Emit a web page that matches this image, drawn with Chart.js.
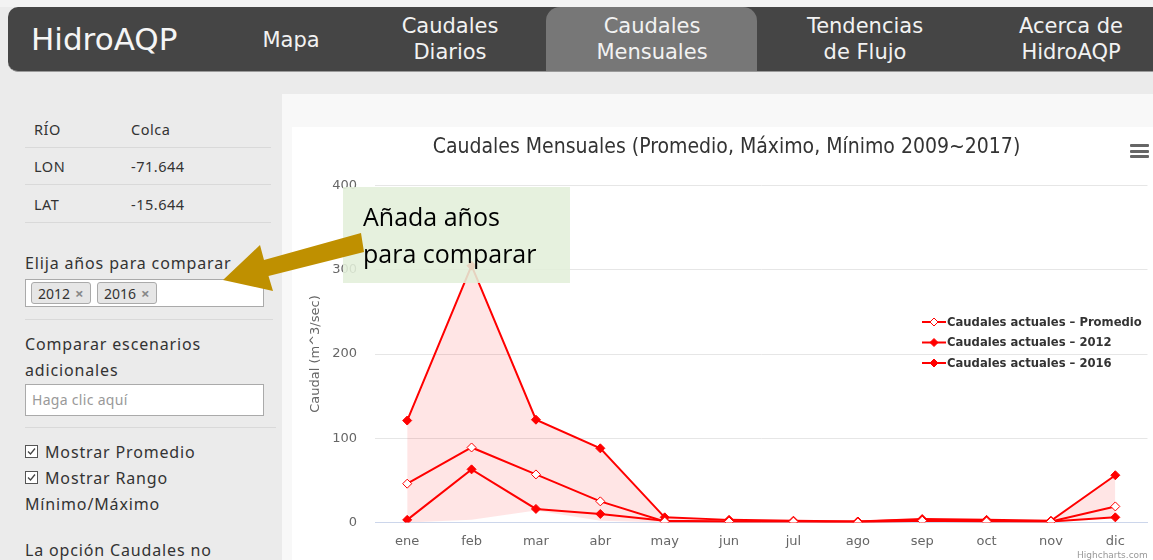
<!DOCTYPE html>
<html>
<head>
<meta charset="utf-8">
<script src="https://cdn.jsdelivr.net/npm/chart.js@4.4.1/dist/chart.umd.min.js"></script>
<style>
    html, body { margin: 0; padding: 0; }
    body {
        width: 1153px; height: 560px; overflow: hidden; position: relative;
        background: #ebebeb; font-family: "Noto Sans", sans-serif; color: #333;
    }
    .abs { position: absolute; white-space: nowrap; }
    #topStrip { left: 0; top: 0; width: 1153px; height: 7px; background: #f3f3f3; }
    #nav {
        left: 8px; top: 7px; width: 1170px; height: 64px; background: #454545;
        border-radius: 10px; border-bottom: 1px solid #9a9a9a;
    }
    #activeTab { left: 546px; top: 7px; width: 211px; height: 64px; background: #777; border-radius: 14px 14px 0 0; }
    .navItem {
        color: #f2f2f2; font-family: "DejaVu Sans", sans-serif; font-size: 21px; line-height: 26px;
        text-align: center; width: 210px;
    }
    #brand { left: 31px; top: 19px; font-family: "DejaVu Sans", sans-serif; font-size: 31px; line-height: 40px; color: #f5f5f5; }
    #mainPanel { left: 282px; top: 94px; width: 871px; height: 466px; background: #f8f8f8; }
    #chartCard { left: 292px; top: 127px; width: 861px; height: 433px; background: #fff; }
    #chartCard canvas { display: block; }
    .side { font-size: 16px; line-height: 26px; color: #333; letter-spacing: 0.85px; }
    .tbl { font-size: 14.5px; line-height: 20px; color: #333; letter-spacing: 0.5px; }
    .rule { height: 1px; background: #d9d9d9; }
    .box { background: #fff; border: 1px solid #aaa; box-sizing: border-box; }
    .tag {
        top: 282px; height: 22px; line-height: 20px; font-size: 14px; background: #e6e6e6;
        border: 1px solid #aaa; border-radius: 3px; box-sizing: border-box; padding: 0 6px; color: #333;
        width: 60px;
    }
    .tag span { color: #888; margin-left: 5px; font-weight: bold; font-size: 15px; }
    .chk {
        width: 13px; height: 13px; border: 1px solid #555; box-sizing: border-box; background: #fff;
    }
    #note {
        left: 343px; top: 187px; width: 227px; height: 96px; background: rgba(226, 239, 218, 0.88);
        font-family: "Open Sans", sans-serif; font-size: 25px; line-height: 37px; color: #000;
        box-sizing: border-box; padding: 11px 0 0 20px;
    }
    #menuIcon div { position: absolute; left: 0; width: 19px; height: 3px; background: #666; border-radius: 1px; }
    #credit { left: 1077px; top: 550px; font-family: "DejaVu Sans", sans-serif; font-size: 9px; color: #999; }
</style>
</head>
<body>
<div class="abs" id="topStrip"></div>
<div class="abs" id="nav"></div>
<div class="abs" id="activeTab"></div>
<div class="abs" id="brand">HidroAQP</div>
<div class="abs navItem" style="left:186px; top:27px;">Mapa</div>
<div class="abs navItem" style="left:345px; top:13px;">Caudales<br>Diarios</div>
<div class="abs navItem" style="left:547px; top:13px;">Caudales<br>Mensuales</div>
<div class="abs navItem" style="left:760px; top:13px;">Tendencias<br>de Flujo</div>
<div class="abs navItem" style="left:966px; top:13px;">Acerca de<br>HidroAQP</div>

<!-- barra lateral -->
<div class="abs tbl" style="left:34px; top:119px;">RÍO</div>
<div class="abs tbl" style="left:131px; top:119px;">Colca</div>
<div class="abs rule" style="left:25px; top:147px; width:246px;"></div>
<div class="abs tbl" style="left:34px; top:156px;">LON</div>
<div class="abs tbl" style="left:131px; top:156px;">-71.644</div>
<div class="abs rule" style="left:25px; top:184px; width:246px;"></div>
<div class="abs tbl" style="left:34px; top:194px;">LAT</div>
<div class="abs tbl" style="left:131px; top:194px;">-15.644</div>
<div class="abs rule" style="left:25px; top:222px; width:246px;"></div>

<div class="abs side" style="left:25px; top:250px;">Elija años para comparar</div>
<div class="abs box" style="left:25px; top:279px; width:239px; height:28px;"></div>
<div class="abs tag" style="left:31px;">2012<span>×</span></div>
<div class="abs tag" style="left:97px;">2016<span>×</span></div>
<div class="abs rule" style="left:25px; top:319px; width:248px;"></div>

<div class="abs side" style="left:25px; top:331px;">Comparar escenarios</div>
<div class="abs side" style="left:25px; top:357px;">adicionales</div>
<div class="abs box" style="left:25px; top:384px; width:239px; height:32px;"></div>
<div class="abs" style="left:32px; top:389px; font-size:14px; line-height:22px; color:#999; letter-spacing:0.3px;">Haga clic aquí</div>
<div class="abs rule" style="left:25px; top:427px; width:251px;"></div>

<div class="abs chk" style="left:25px; top:445px;"></div>
<svg class="abs" style="left:25px; top:445px;" width="13" height="13"><polyline points="3,6.5 5.5,9 10,3.5" fill="none" stroke="#444" stroke-width="1.3"/></svg>
<div class="abs side" style="left:45px; top:439px;">Mostrar Promedio</div>
<div class="abs chk" style="left:25px; top:471px;"></div>
<svg class="abs" style="left:25px; top:471px;" width="13" height="13"><polyline points="3,6.5 5.5,9 10,3.5" fill="none" stroke="#444" stroke-width="1.3"/></svg>
<div class="abs side" style="left:45px; top:465px;">Mostrar Rango</div>
<div class="abs side" style="left:25px; top:491px;">Mínimo/Máximo</div>
<div class="abs side" style="left:25px; top:537px;">La opción Caudales no</div>

<div class="abs" id="mainPanel"></div>
<div class="abs" id="chartCard"><canvas id="caudalChart" width="861" height="433"></canvas></div>
<div class="abs" id="menuIcon" style="left:1130px; top:144px;">
    <div style="top:0"></div><div style="top:5.5px"></div><div style="top:11px"></div>
</div>
<div class="abs" id="credit">Highcharts.com</div>

<div class="abs" id="note">Añada años<br>para comparar</div>
<svg class="abs" style="left:0; top:0;" width="1153" height="560">
    <polygon points="223,280 260,245 264,260 361,233 364,252 268.5,276 273,291" fill="#bf9000"/>
</svg>

<script>
document.addEventListener("DOMContentLoaded", () => {
    const meses = ['ene', 'feb', 'mar', 'abr', 'may', 'jun', 'jul', 'ago', 'sep', 'oct', 'nov', 'dic'];
    const promedio = [46, 89, 57, 25, 1, 1, 1, 0, 2, 1, 1, 19];
    const caudal2012 = [121, 305, 122, 88, 6, 3, 2, 1, 4, 3, 2, 56];
    const caudal2016 = [3, 63, 16, 10, 2, 1, 1, 1, 3, 2, 1, 6];
    const rangoMax = [121, 305, 122, 88, 6, 3, 2, 1, 4, 3, 2, 56];
    const rangoMin = [0, 3, 14, 2, 0, 0, 0, 0, 1, 0, 0, 6];
    const yTicks = [0, 100, 200, 300, 400];

    const rojo = '#ff0000';

    // leyenda al estilo Highcharts: linea + marcador dentro del area
    const hcLegend = {
        id: 'hcLegend',
        afterDraw: (chart) => {
            const { ctx } = chart;
            const items = chart.data.datasets.filter((d) => d.inLegend);
            ctx.save();
            items.forEach((ds, i) => {
                const x = 630;
                const y = 195 + i * 20.5;
                ctx.strokeStyle = ds.borderColor;
                ctx.lineWidth = 2;
                ctx.beginPath();
                ctx.moveTo(x, y);
                ctx.lineTo(x + 24, y);
                ctx.stroke();
                ctx.beginPath();
                ctx.moveTo(x + 12 - 4, y);
                ctx.lineTo(x + 12, y - 4);
                ctx.lineTo(x + 12 + 4, y);
                ctx.lineTo(x + 12, y + 4);
                ctx.closePath();
                ctx.fillStyle = ds.pointBackgroundColor;
                ctx.fill();
                ctx.lineWidth = 1;
                ctx.stroke();
                ctx.font = 'bold 11.6px "DejaVu Sans"';
                ctx.fillStyle = '#333333';
                ctx.textBaseline = 'middle';
                ctx.fillText(ds.label, x + 25, y + 0.5);
            });
            ctx.restore();
        }
    };

    const serie = (label, data, fillPoint) => ({
        label: label,
        data: data,
        inLegend: true,
        borderColor: rojo,
        borderWidth: 2,
        pointStyle: 'rectRot',
        pointRadius: 4.5,
        pointBorderWidth: 1,
        pointBorderColor: rojo,
        pointBackgroundColor: fillPoint,
        fill: false,
        tension: 0
    });

    new Chart(document.getElementById('caudalChart'), {
        type: 'line',
        data: {
            labels: meses,
            datasets: [
                serie('Caudales actuales – Promedio', promedio, '#ffffff'),
                serie('Caudales actuales – 2012', caudal2012, rojo),
                serie('Caudales actuales – 2016', caudal2016, rojo),
                {
                    label: 'Rango máx',
                    data: rangoMax,
                    borderWidth: 0,
                    pointRadius: 0,
                    fill: false
                },
                {
                    label: 'Rango mín',
                    data: rangoMin,
                    borderWidth: 0,
                    pointRadius: 0,
                    backgroundColor: 'rgba(255, 0, 0, 0.1)',
                    fill: '-1'
                }
            ]
        },
        options: {
            responsive: false,
            animation: false,
            events: [],
            layout: { padding: { left: 10, right: 2, top: 0, bottom: 0 } },
            plugins: {
                legend: { display: false },
                tooltip: { enabled: false },
                title: {
                    display: true,
                    text: 'Caudales Mensuales (Promedio, Máximo, Mínimo 2009~2017)',
                    color: '#333333',
                    font: { family: '"DejaVu Sans Condensed"', size: 21, weight: 'normal' },
                    padding: { top: 7.5, bottom: 26 }
                }
            },
            scales: {
                x: {
                    offset: true,
                    grid: { display: false, drawTicks: false },
                    border: { display: true, color: '#ccd6eb', width: 1 },
                    ticks: {
                        color: '#666666',
                        padding: 11,
                        font: { family: '"DejaVu Sans"', size: 13 }
                    }
                },
                y: {
                    min: 0,
                    max: 400,
                    afterBuildTicks: (scale) => { scale.ticks = yTicks.map((v) => ({ value: v })); },
                    afterFit: (scale) => { scale.width = 73; },
                    grid: { color: '#e6e6e6', drawTicks: false },
                    border: { display: false },
                    ticks: {
                        color: '#666666',
                        padding: 18,
                        font: { family: '"DejaVu Sans"', size: 13 }
                    },
                    title: {
                        display: true,
                        text: 'Caudal (m^3/sec)',
                        color: '#666666',
                        font: { family: '"DejaVu Sans"', size: 13 },
                        padding: { top: 6, bottom: 0 }
                    }
                }
            }
        },
        plugins: [hcLegend]
    });
});
</script>
</body>
</html>
